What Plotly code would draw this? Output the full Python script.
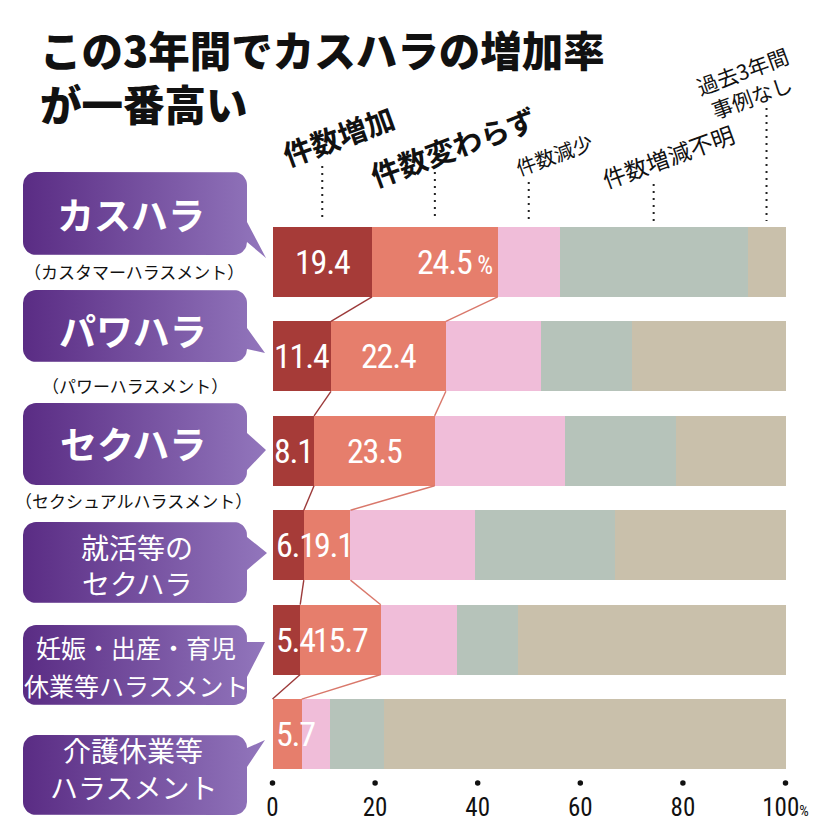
import numpy as np
import plotly.graph_objects as go

# ---------------- data ----------------
categories = ["カスハラ", "パワハラ", "セクハラ", "就活等の<br>セクハラ",
              "妊娠・出産・育児<br>休業等ハラスメント", "介護休業等<br>ハラスメント"]
sublabels = ["（カスタマーハラスメント）", "（パワーハラスメント）",
             "（セクシュアルハラスメント）", "", "", ""]
series_names = ["件数増加", "件数変わらず", "件数減少", "件数増減不明", "過去3年間<br>事例なし"]
increase = [19.4, 11.4, 8.1, 6.1, 5.4, 0.0]
unchanged = [24.5, 22.4, 23.5, 9.1, 15.7, 5.7]
decrease = [12.1, 18.5, 25.4, 24.3, 14.9, 5.6]
unknown = [36.6, 17.8, 21.6, 27.2, 11.8, 10.4]
no_cases = [7.4, 29.9, 21.4, 33.3, 52.2, 78.3]
tick_values = [0, 20, 40, 60, 80, 100]
tick_labels = ["0", "20", "40", "60", "80", "100<span style='font-size:15px'>%</span>"]
title_text = "この3年間でカスハラの増加率<br>が一番高い"

series = [increase, unchanged, decrease, unknown, no_cases]
colors = ["#a63b38", "#e67e6c", "#f0bdd9", "#b6c3ba", "#c9c0ab"]

# ---------------- geometry ----------------
OFF = 8                    # page body margin
W, H = 812, 820            # figure size (fits the 820x828 window)
X0, XS = 272.5, 5.13       # screen pixel of 0 %, pixels per %
Y0, YS = 262.0, 94.4       # screen pixel of first row centre, pixels per row
BAR_W = 0.74
VAL_SIZE = 34
LS = 1.2                   # letter tightening for value labels (px)

def px2x(p):
    return (p - X0) / XS

def py2y(p):
    return (p - Y0) / YS

def text_w(s, size):
    # approximate width of narrow numeric text in pixels
    return sum((0.228 if c == "." else 0.456) for c in s) * size * 1.05 - LS * len(s)

JP = "Noto Sans CJK JP"
NUM = "Liberation Sans Narrow, Roboto Condensed, DejaVu Sans Condensed, sans-serif"

rows = list(range(len(categories)))
fig = go.Figure()

# stacked bars
for name, vals, col in zip(series_names, series, colors):
    fig.add_trace(go.Bar(y=rows, x=vals, orientation="h", width=BAR_W, name=name,
                         marker=dict(color=col, line=dict(width=0)),
                         hoverinfo="skip", xaxis="x", yaxis="y"))

# connecting lines between rows (cumulative boundaries)
cum1 = [a for a in increase]
cum2 = [a + b for a, b in zip(increase, unchanged)]
for cum, lc in ((cum1, "#9c3a3a"), (cum2, "#d9786b")):
    lx, ly = [], []
    for i in range(len(rows) - 1):
        lx += [cum[i], cum[i + 1], None]
        ly += [i + BAR_W / 2, i + 1 - BAR_W / 2, None]
    fig.add_trace(go.Scatter(x=lx, y=ly, mode="lines", line=dict(color=lc, width=1.4),
                             hoverinfo="skip", xaxis="x", yaxis="y"))

# dotted leader lines from series labels to the first row segments
mids = []
acc = 0
for vals in series:
    mids.append(acc + vals[0] / 2)
    acc += vals[0]
lead_tops = [166, 172, 182, 184, 108]
lx, ly = [], []
for m, t in zip(mids, lead_tops):
    lx += [m, m, None]
    ly += [py2y(t), py2y(221), None]
fig.add_trace(go.Scatter(x=lx, y=ly, mode="lines",
                         line=dict(color="#222", width=2.0, dash="2px,5px"),
                         hoverinfo="skip", xaxis="x", yaxis="y"))

# tick dots
fig.add_trace(go.Scatter(x=tick_values, y=[py2y(783)] * len(tick_values), mode="markers",
                         marker=dict(color="#111", size=5.5), hoverinfo="skip",
                         xaxis="x", yaxis="y"))

annotations = []
VFONT = dict(family=NUM, size=VAL_SIZE, color="white")

def styled(t):
    return f"<span style='letter-spacing:-{LS}px'>{t}</span>"

for i in rows:
    dark_right = X0  # pixel right edge of the dark label
    if increase[i] > 0:
        txt = f"{increase[i]:.1f}"
        w = text_w(txt, VAL_SIZE)
        seg = increase[i] * XS
        if w + 2 <= seg:
            annotations.append(dict(x=increase[i] / 2, y=i, xref="x", yref="y",
                                    showarrow=False, text=styled(txt), font=VFONT))
            dark_right = X0 + seg / 2 + w / 2
        else:
            annotations.append(dict(x=0, y=i, xref="x", yref="y", xanchor="left",
                                    xshift=1, showarrow=False, text=styled(txt), font=VFONT))
            dark_right = X0 + 1 + w
    txt = f"{unchanged[i]:.1f}"
    start_px = X0 + increase[i] * XS
    seg = unchanged[i] * XS
    w = text_w(txt, VAL_SIZE)
    if i == 0:
        annotations.append(dict(x=increase[i] + unchanged[i], y=i, xref="x", yref="y",
                                xanchor="right", xshift=-3, showarrow=False,
                                text=styled(txt) + "<span style='font-size:25px'> %</span>",
                                font=VFONT))
        continue
    left_if_centered = start_px + seg / 2 - w / 2
    if increase[i] == 0 and w + 2 > seg:
        annotations.append(dict(x=0, y=i, xref="x", yref="y", xanchor="left", xshift=1,
                                showarrow=False, text=styled(txt), font=VFONT))
    elif left_if_centered < dark_right + 1:
        annotations.append(dict(x=increase[i], y=i, xref="x", yref="y", xanchor="left",
                                xshift=dark_right + 1 - start_px, showarrow=False,
                                text=styled(txt), font=VFONT))
    else:
        annotations.append(dict(x=increase[i] + unchanged[i] / 2, y=i, xref="x", yref="y",
                                showarrow=False, text=styled(txt), font=VFONT))

# ---------------- decorations in screen-pixel space (x2/y2) ----------------
def box_poly(x0, y0, x1, y1, r, bt, bb, tip):
    pts = []
    def arc(cx, cy, a0, a1):
        for a in np.linspace(np.radians(a0), np.radians(a1), 10):
            pts.append((cx + r * np.cos(a), cy + r * np.sin(a)))
    arc(x0 + r, y0 + r, 180, 270)
    arc(x1 - r, y0 + r, 270, 360)
    bt = max(bt, y0 + r)
    bb = min(bb, y1 - r)
    pts += [(x1, bt), tip, (x1, bb)]
    arc(x1 - r, y1 - r, 0, 90)
    arc(x0 + r, y1 - r, 90, 180)
    pts.append(pts[0])
    return [p[0] for p in pts], [p[1] for p in pts]

boxes = [
    (172, 255, 222, 255, (266, 258)),
    (290, 362, 328, 361, (265, 353)),
    (403, 485, 433, 470, (266, 450)),
    (522, 603, 537, 570, (267, 553)),
    (625, 705, 642, 677, (265, 642)),
    (735, 815, 740, 767, (265, 740)),
]
for (y0, y1, bt, bb, tip) in boxes:
    bx, by = box_poly(23, y0, 247, y1, 13, bt, bb, tip)
    fig.add_trace(go.Scatter(x=bx, y=by, mode="lines", fill="toself",
                             line=dict(width=0, color="rgba(0,0,0,0)"),
                             fillgradient=dict(type="horizontal",
                                               colorscale=[[0, "#5a2c84"], [1, "#9276bc"]]),
                             hoverinfo="skip", xaxis="x2", yaxis="y2"))

# box texts
main_pos = [(131, 214), (133, 330), (133, 443)]
for i in range(3):
    annotations.append(dict(x=main_pos[i][0], y=main_pos[i][1], xref="x2", yref="y2",
                            text=categories[i], showarrow=False,
                            font=dict(family=JP, size=37, color="white", weight="bold")))
sub_pos = [(134, 271), (135, 385), (133, 500)]
for i in range(3):
    annotations.append(dict(x=sub_pos[i][0], y=sub_pos[i][1], xref="x2", yref="y2",
                            text=sublabels[i], showarrow=False,
                            font=dict(family=JP, size=17, color="#111")))
multi = [(3, 137, [547, 583], 28), (4, 136, [647, 685], 25), (5, 133, [750, 787], 28)]
for idx, cx, ys, fs in multi:
    for line, yy in zip(categories[idx].split("<br>"), ys):
        annotations.append(dict(x=cx, y=yy, xref="x2", yref="y2", text=line,
                                showarrow=False,
                                font=dict(family=JP, size=fs, color="white")))

# title
annotations.append(dict(x=38, y=76, xref="x2", yref="y2", xanchor="left", align="left",
                        text=title_text, showarrow=False,
                        font=dict(family=JP, size=41.5, color="#111", weight=900)))

# series labels (rotated)
lab_pos = [(338, 135, 29, "bold"), (452, 146, 29, "bold"), (554, 154, 20, "normal"),
           (668, 156, 23, "normal"), (747, 83, 21, "normal")]
for name, (cx, cy, fs, wt) in zip(series_names, lab_pos):
    annotations.append(dict(x=cx, y=cy, xref="x2", yref="y2", text=name,
                            showarrow=False, textangle=-20,
                            font=dict(family=JP, size=fs, color="#111", weight=wt)))

fig.update_layout(
    width=W, height=H, margin=dict(l=0, r=0, t=0, b=0),
    paper_bgcolor="white", plot_bgcolor="rgba(0,0,0,0)", showlegend=False,
    barmode="stack",
    xaxis=dict(domain=[0, 1], range=[px2x(OFF), px2x(OFF + W)], anchor="free",
               position=1 - (790 - OFF) / H, showgrid=False, zeroline=False, showline=False,
               ticks="", tickvals=tick_values, ticktext=tick_labels,
               tickfont=dict(family=NUM, size=25, color="#111"), fixedrange=True),
    yaxis=dict(domain=[0, 1], range=[py2y(OFF + H), py2y(OFF)], visible=False,
               fixedrange=True),
    xaxis2=dict(domain=[0, 1], range=[OFF, OFF + W], visible=False, anchor="y2",
                fixedrange=True),
    yaxis2=dict(domain=[0, 1], range=[OFF + H, OFF], visible=False, anchor="x2",
                fixedrange=True),
    annotations=annotations,
)

fig.write_html("out.html")
